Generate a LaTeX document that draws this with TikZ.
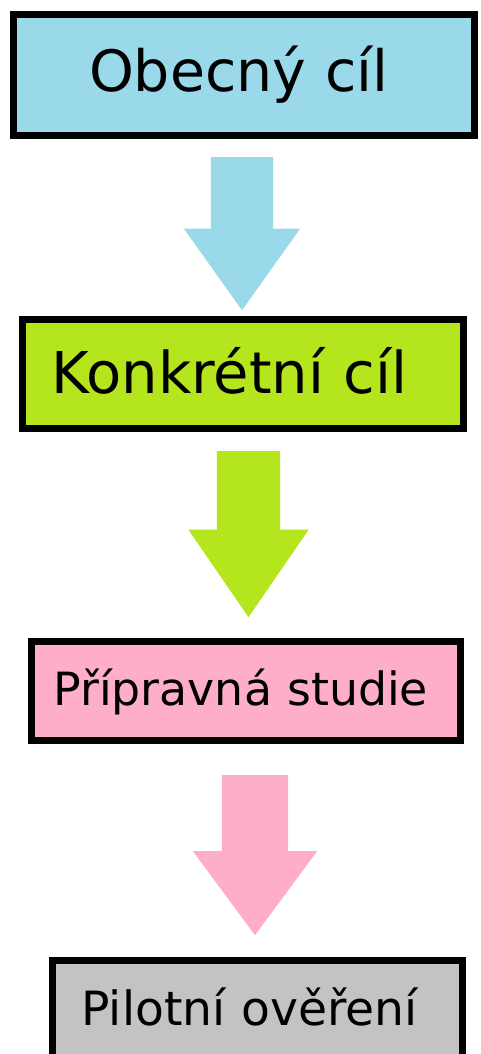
\documentclass[tikz,border=0pt]{standalone}
\usepackage{fontspec}
\setmainfont{DejaVu Sans}
\usetikzlibrary{shapes.arrows, positioning}
\definecolor{goalblue}{RGB}{153, 217, 234}
\definecolor{goalgreen}{RGB}{181, 230, 29}
\definecolor{goalpink}{RGB}{255, 174, 201}
\definecolor{goalgray}{RGB}{195, 195, 195}

\begin{document}
\begin{tikzpicture}[x=1pt, y=-1pt,
    box/.style={draw, line width=7.5pt, rectangle, align=left, inner ysep=0pt},
    bigarrow/.style={single arrow, draw=none, rotate=-90, anchor=tail, inner xsep=0pt}]
    \clip (0,0) rectangle (481,1054);

    \node[box, fill=goalblue, minimum height=121pt, inner xsep=75.5pt, text width=310pt,
          text height=44pt, text depth=10pt,
          font=\fontsize{57}{60}\selectfont] (obecny) at (244,75) {Obecný cíl};
    \node[box, fill=goalgreen, minimum height=109pt, inner xsep=29pt, text width=383pt,
          text height=42pt, text depth=4pt,
          font=\fontsize{57.6}{60}\selectfont] (konkretni) at (243,374) {Konkrétní cíl};
    \node[box, fill=goalpink, minimum height=99pt, inner xsep=22pt, text width=385pt,
          text height=36pt, text depth=8pt,
          font=\fontsize{45.8}{50}\selectfont] (studie) at (246,691) {\mbox{Přípravná studie}};
    \node[box, fill=goalgray, minimum height=99pt, inner xsep=29pt, text width=352pt,
          text height=36pt, text depth=6pt,
          font=\fontsize{47.2}{50}\selectfont] (pilot) at (257.5,1010) {Pilotní ověření};

    % arrows between the steps
    \node[bigarrow, fill=goalblue, inner ysep=31pt, minimum height=153pt, minimum width=116pt,
          single arrow head extend=27pt, single arrow tip angle=71] (a1) at (242,157) {};
    \node[bigarrow, fill=goalgreen, inner ysep=31.5pt, minimum height=166pt, minimum width=120pt,
          single arrow head extend=28.5pt, single arrow tip angle=69] (a2) at (248.5,451) {};
    \node[bigarrow, fill=goalpink, inner ysep=33pt, minimum height=160pt, minimum width=124pt,
          single arrow head extend=29pt, single arrow tip angle=73] (a3) at (255,775) {};
\end{tikzpicture}
\end{document}
